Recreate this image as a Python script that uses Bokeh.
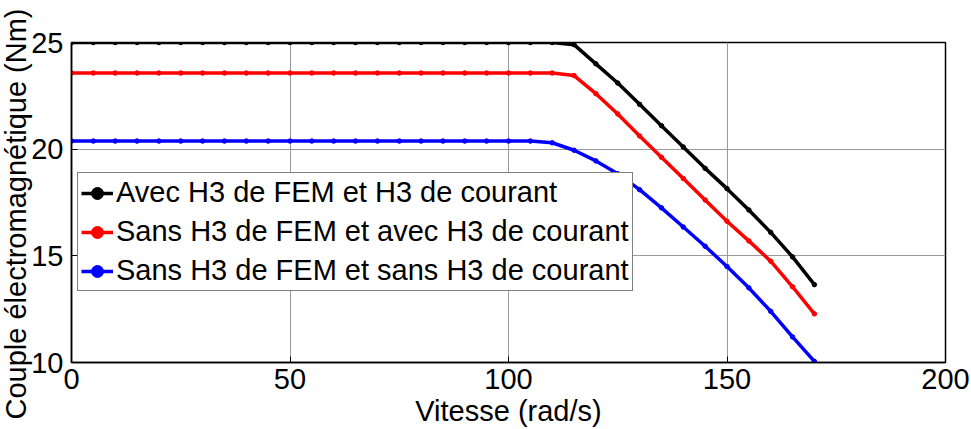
from bokeh.plotting import figure
from bokeh.models import Range1d, FixedTicker, Legend, LegendItem, Title
from bokeh.embed import file_html
from bokeh.resources import INLINE

# ---- data ----
vitesse = list(range(0, 175, 5))  # 0..170 rad/s

avec_h3_fem_avec_h3_courant = [25.0] * 23 + [
    24.9, 24.0, 23.1, 22.1, 21.1, 20.1, 19.1, 18.15, 17.15, 16.1, 14.95, 13.65]

sans_h3_fem_avec_h3_courant = [23.57] * 23 + [
    23.45, 22.6, 21.65, 20.62, 19.62, 18.62, 17.62, 16.62, 15.7, 14.75, 13.55, 12.28]

sans_h3_fem_sans_h3_courant = [20.38] * 22 + [
    20.3, 19.95, 19.45, 18.85, 18.1, 17.25, 16.35, 15.45, 14.5, 13.5, 12.4, 11.2, 10.05]

series_labels = ["Avec H3 de FEM et H3 de courant",
                 "Sans H3 de FEM et avec H3 de courant",
                 "Sans H3 de FEM et sans H3 de courant"]
series_colors = ["#000000", "#ff0000", "#0000ff"]

x_ticks = [0, 50, 100, 150, 200]
y_ticks = [10, 15, 20, 25]

x_label = "Vitesse (rad/s)"
y_label = "Couple électromagnétique (Nm)"

FONT = "Liberation Sans"
FS = "29px"

p = figure(width=971, height=429, output_backend="svg", toolbar_location=None,
           x_range=Range1d(0, 200), y_range=Range1d(10, 25),
           min_border_left=71, min_border_right=26, min_border_top=42,
           min_border_bottom=65, background_fill_color="white",
           border_fill_color="white")

p.outline_line_color = "black"
p.outline_line_width = 1.5
p.outline_line_alpha = 1.0

for g in (p.xgrid, p.ygrid):
    g.grid_line_color = "#9a9a9a"
    g.grid_line_width = 1

p.xaxis.ticker = FixedTicker(ticks=x_ticks)
p.yaxis.ticker = FixedTicker(ticks=y_ticks)
for ax in (p.xaxis, p.yaxis):
    ax.major_tick_in = 6
    ax.major_tick_out = 0
    ax.minor_tick_line_color = None
    ax.axis_line_color = "black"
    ax.axis_line_width = 1.5
    ax.major_tick_line_color = "black"
    ax.major_label_text_font = FONT
    ax.major_label_text_font_size = FS
    ax.major_label_text_color = "black"
    ax.axis_label_text_font = FONT
    ax.axis_label_text_font_size = FS
    ax.axis_label_text_font_style = "normal"
    ax.axis_label_text_color = "black"

p.xaxis.major_label_standoff = 6
p.yaxis.major_label_standoff = 8
p.xaxis.axis_label = x_label
p.xaxis.axis_label_standoff = 3

ytitle = Title(text=y_label, align="left", offset=-57, standoff=-6,
               text_font=FONT, text_font_size=FS, text_font_style="normal",
               text_color="black")
p.add_layout(ytitle, "left")

items = []
for ys, lab, col in zip([avec_h3_fem_avec_h3_courant,
                         sans_h3_fem_avec_h3_courant,
                         sans_h3_fem_sans_h3_courant], series_labels, series_colors):
    r1 = p.line(vitesse, ys, line_color=col, line_width=3.5)
    r2 = p.scatter(vitesse, ys, size=4.5, fill_color=col, line_color=col)
    items.append(LegendItem(label=lab, renderers=[r1, r2]))

legend = Legend(items=items, location=(6, 71),
                label_text_font=FONT, label_text_font_size=FS,
                label_text_color="black",
                glyph_width=32, glyph_height=30, label_height=30,
                label_standoff=3, spacing=6, padding=3, margin=0,
                border_line_color="black", border_line_width=1,
                background_fill_color="white", background_fill_alpha=1.0)
p.add_layout(legend, "center")

open("out.html", "w").write(file_html(p, INLINE))
